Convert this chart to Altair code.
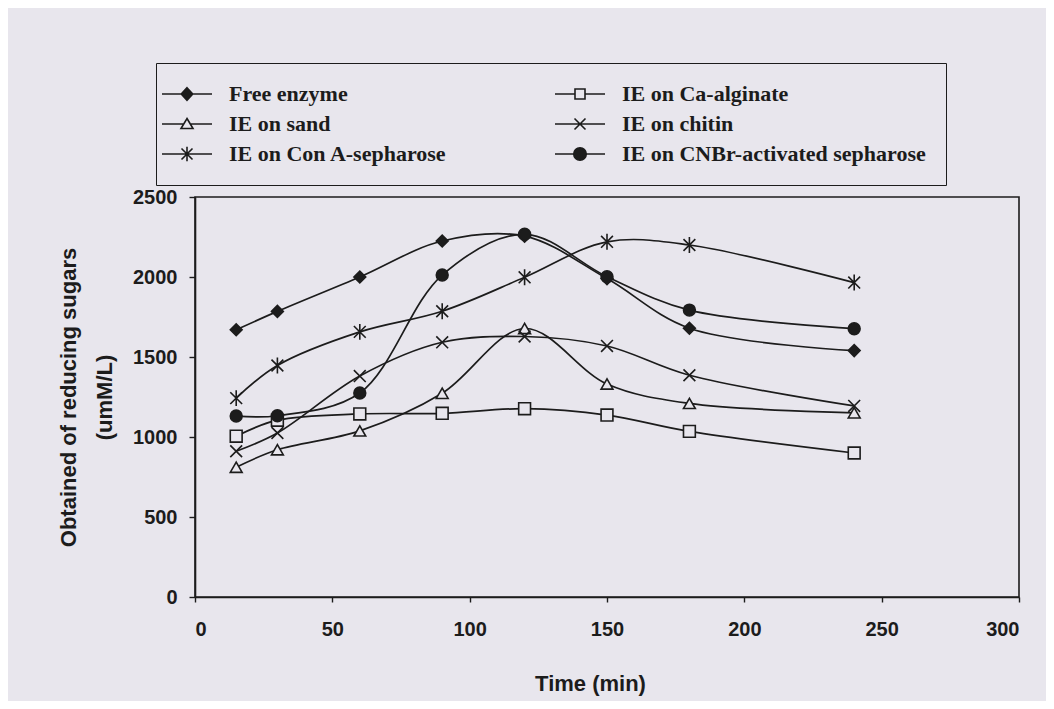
import altair as alt
import pandas as pd

# ---- data ----
times = [15, 30, 60, 90, 120, 150, 180, 240]
series_names = [
    "Free enzyme",
    "IE on sand",
    "IE on Con A-sepharose",
    "IE on Ca-alginate",
    "IE on chitin",
    "IE on CNBr-activated sepharose",
]
free_enzyme = [1670, 1785, 2000, 2225, 2255, 1990, 1680, 1540]
ie_sand = [811, 920, 1038, 1273, 1678, 1331, 1210, 1151]
ie_con_a = [1243, 1447, 1657, 1786, 1998, 2220, 2200, 1965]
ie_ca_alginate = [1005, 1105, 1144, 1148, 1177, 1137, 1035, 900]
ie_chitin = [911, 1025, 1381, 1592, 1628, 1569, 1386, 1194]
ie_cnbr = [1131, 1133, 1275, 2012, 2267, 2002, 1793, 1677]
x_ticks = [0, 50, 100, 150, 200, 250, 300]
y_ticks = [0, 500, 1000, 1500, 2000, 2500]

values = [free_enzyme, ie_sand, ie_con_a, ie_ca_alginate, ie_chitin, ie_cnbr]
rows = []
for name, vals in zip(series_names, values):
    for t, v in zip(times, vals):
        rows.append({"series": name, "time": t, "value": v})
df = pd.DataFrame(rows)

# ---- styling ----
BG = "#e8e6ed"
INK = "#1c1c1c"
X_PATH = "M-1,-1L1,1M-1,1L1,-1"
AST_PATH = "M-1,-1L1,1M-1,1L1,-1M0,-1.35L0,1.35"
pt_shapes = ["diamond", "triangle-up", AST_PATH, "square", X_PATH, "circle"]
pt_fills = [INK, BG, BG, BG, BG, INK]
pt_strokes = [INK] * 6

# legend symbols: marker with a short line through it (1 unit = 5 px)
LG_DIAMOND = "M-5,0L5,0M0,-1.25L1.15,0L0,1.25L-1.15,0Z"
LG_SQUARE = "M-5,0L-1,0M1,0L5,0M-1,-1L1,-1L1,1L-1,1Z"
LG_TRI = "M-5,0L-0.66,0M0.66,0L5,0M0,-1.1L1.2,0.9L-1.2,0.9Z"
LG_X = "M-5,0L5,0M-1.1,-1.1L1.1,1.1M-1.1,1.1L1.1,-1.1"
LG_AST = "M-5,0L5,0M-1.1,-1.1L1.1,1.1M-1.1,1.1L1.1,-1.1M0,-1.45L0,1.45"
LG_CIRC = "M-5,0L5,0M1.25,0A1.25,1.25,0,1,1,-1.25,0A1.25,1.25,0,1,1,1.25,0Z"
lg_shapes = [LG_DIAMOND, LG_TRI, LG_AST, LG_SQUARE, LG_X, LG_CIRC]

xenc = alt.X(
    "time:Q",
    scale=alt.Scale(domain=[0, 300], nice=False),
    axis=alt.Axis(values=x_ticks, title="Time (min)", tickSize=5, format="d",
                  labelPadding=17, titlePadding=34, titleX=395),
)
yenc = alt.Y(
    "value:Q",
    scale=alt.Scale(domain=[0, 2500], nice=False),
    axis=alt.Axis(values=y_ticks, title=["Obtained of reducing sugars", "(umM/L)"],
                  format="d", tickSize=6, labelPadding=12, titlePadding=16,
                  titleLineHeight=36),
)

lines = alt.Chart(df).mark_line(
    interpolate="catmull-rom", color=INK, strokeWidth=1.7
).encode(x=xenc, y=yenc, detail="series:N")

points = alt.Chart(df).mark_point(
    filled=True, stroke=INK, strokeWidth=1.6, size=140, opacity=1
).encode(
    x=xenc, y=yenc,
    shape=alt.Shape("series:N", scale=alt.Scale(domain=series_names, range=pt_shapes), legend=None),
    fill=alt.Fill("series:N", scale=alt.Scale(domain=series_names, range=pt_fills), legend=None),
)

legend_props = dict(
    title=None, orient="none", legendX=-39, legendY=-134, columns=2,
    columnPadding=104, rowPadding=8, padding=20,
    strokeColor=INK, fillColor=BG,
    labelFont="Liberation Serif", labelFontWeight="bold", labelFontSize=22,
    labelColor=INK, labelLimit=0, labelOffset=31,
    symbolSize=100, symbolStrokeColor=INK, symbolStrokeWidth=1.6, symbolOpacity=1,
)

legend_layer = alt.Chart(df).mark_point(
    filled=True, strokeWidth=1.6, size=100, opacity=0
).encode(
    x=xenc, y=yenc,
    shape=alt.Shape("series:N", scale=alt.Scale(domain=series_names, range=lg_shapes),
                    legend=alt.Legend(**legend_props)),
    fill=alt.Fill("series:N", scale=alt.Scale(domain=series_names, range=pt_fills),
                  legend=alt.Legend(**legend_props)),
    stroke=alt.Stroke("series:N", scale=alt.Scale(domain=series_names, range=pt_strokes),
                      legend=alt.Legend(**legend_props)),
)

chart = alt.layer(lines, points, legend_layer).resolve_scale(
    shape="independent", fill="independent", stroke="independent"
).properties(
    width=824, height=400,
    autosize=alt.AutoSizeParams(type="none"),
    padding={"left": 187, "top": 189, "right": 27, "bottom": 104},
    background=BG,
).configure_view(
    stroke=INK, strokeWidth=1.6
).configure_axis(
    grid=False, domainColor=INK, domainWidth=1.6, tickColor=INK, tickWidth=1.4,
    labelFont="Liberation Sans", labelFontWeight="bold", labelFontSize=20, labelColor=INK,
    titleFont="Liberation Sans", titleFontWeight="bold", titleFontSize=22, titleColor=INK,
)

chart.save("out.html", embed_options={"renderer": "svg", "actions": False})
